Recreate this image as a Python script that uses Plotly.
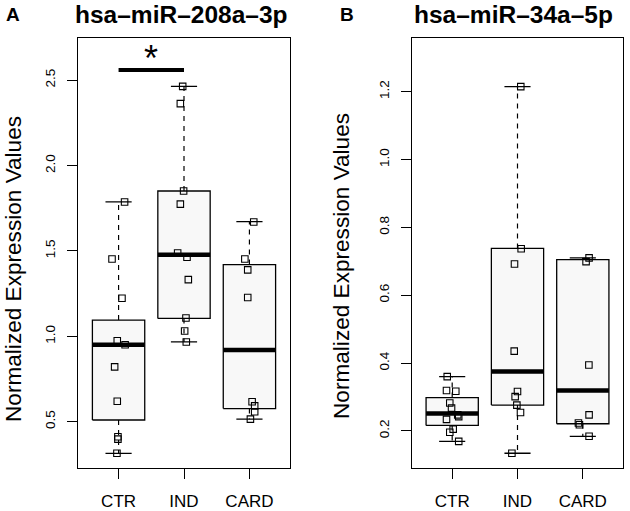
import plotly.graph_objects as go

W, H = 630, 511
FONT = "Liberation Sans, Arial, Helvetica, sans-serif"

# ---------------- data ----------------
groups = ["CTR", "IND", "CARD"]
a_title = "hsa\u2013miR\u2013208a\u20133p"
b_title = "hsa\u2013miR\u201334a\u20135p"
y_label = "Normalized Expression Values"
panel_letters = ["A", "B"]

# Panel A: hsa-miR-208a-3p  (individual samples and horizontal jitter)
a_ctr_vals = [1.787, 1.453, 1.223, 0.974, 0.951, 0.821, 0.620, 0.412, 0.398, 0.315]
a_ctr_jit = [0.092, -0.10, 0.052, -0.02, 0.10, -0.06, -0.02, -0.01, -0.01, -0.025]
a_ind_vals = [2.464, 2.363, 1.851, 1.774, 1.488, 1.463, 1.332, 1.107, 1.031, 0.967]
a_ind_jit = [-0.02, -0.056, -0.006, -0.056, -0.097, 0.046, 0.066, 0.03, 0.01, 0.035]
a_card_vals = [1.670, 1.453, 1.389, 1.227, 0.617, 0.593, 0.558, 0.515]
a_card_jit = [0.066, -0.07, -0.026, -0.026, 0.041, 0.08, 0.08, 0.015]
# box statistics per group (CTR, IND, CARD)
a_lo = [0.315, 0.967, 0.515]
a_q1 = [0.510, 1.105, 0.577]
a_med = [0.950, 1.478, 0.920]
a_q3 = [1.095, 1.851, 1.420]
a_hi = [1.787, 2.464, 1.672]
a_sig_pair = ["CTR", "IND"]
a_sig_y = 2.56
a_sig_label = "*"

# Panel B: hsa-miR-34a-5p
b_ctr_vals = [0.360, 0.319, 0.317, 0.282, 0.267, 0.247, 0.242, 0.234, 0.205, 0.196, 0.169]
b_ctr_jit = [-0.076, -0.087, 0.055, -0.037, -0.01, 0.085, 0.10, -0.087, 0.015, -0.037, 0.10]
b_ind_vals = [1.215, 0.737, 0.692, 0.435, 0.316, 0.301, 0.276, 0.254, 0.134]
b_ind_jit = [0.05, 0.056, -0.046, -0.05, 0.0, -0.036, -0.01, 0.046, -0.086]
b_card_vals = [0.710, 0.699, 0.394, 0.247, 0.223, 0.218, 0.184]
b_card_jit = [0.096, 0.05, 0.093, 0.096, -0.067, -0.052, 0.096]
b_lo = [0.169, 0.134, 0.184]
b_q1 = [0.216, 0.276, 0.221]
b_med = [0.251, 0.375, 0.319]
b_q3 = [0.298, 0.738, 0.705]
b_hi = [0.360, 1.215, 0.710]

a_ticks = [0.5, 1.0, 1.5, 2.0, 2.5]
b_ticks = [0.2, 0.4, 0.6, 0.8, 1.0, 1.2]
a_range = [0.228, 2.748]
b_range = [0.090, 1.358]

# ---------------- style ----------------
BOX_HALF = 0.4
CAP_HALF = 0.2
BOX_FILL = "#f8f8f8"
BLACK = "#000000"

fig = go.Figure()


def add_panel(xa, ya, lo, q1, med, q3, hi, pts):
    for i in range(len(groups)):
        c = i + 1
        # box
        fig.add_trace(go.Scatter(
            x=[c - BOX_HALF, c + BOX_HALF, c + BOX_HALF, c - BOX_HALF, c - BOX_HALF],
            y=[q1[i], q1[i], q3[i], q3[i], q1[i]],
            mode="lines", fill="toself", fillcolor=BOX_FILL,
            line=dict(color=BLACK, width=1.3), xaxis=xa, yaxis=ya,
            hoverinfo="skip", showlegend=False))
        # whiskers (dashed)
        for a, b in ((q3[i], hi[i]), (q1[i], lo[i])):
            fig.add_trace(go.Scatter(
                x=[c, c], y=[a, b], mode="lines",
                line=dict(color=BLACK, width=1.2, dash="5px,5px"),
                xaxis=xa, yaxis=ya, hoverinfo="skip", showlegend=False))
        # caps
        for v in (hi[i], lo[i]):
            fig.add_trace(go.Scatter(
                x=[c - CAP_HALF, c + CAP_HALF], y=[v, v], mode="lines",
                line=dict(color=BLACK, width=1.3),
                xaxis=xa, yaxis=ya, hoverinfo="skip", showlegend=False))
        # median
        fig.add_trace(go.Scatter(
            x=[c - BOX_HALF, c + BOX_HALF], y=[med[i], med[i]], mode="lines",
            line=dict(color=BLACK, width=4.5),
            xaxis=xa, yaxis=ya, hoverinfo="skip", showlegend=False))
    for i, (vals, jit) in enumerate(pts):
        c = i + 1
        fig.add_trace(go.Scatter(
            x=[c + j for j in jit], y=vals, mode="markers",
            marker=dict(symbol="square-open", size=6.5, color=BLACK,
                        line=dict(width=1.1, color=BLACK)),
            xaxis=xa, yaxis=ya, showlegend=False,
            name=groups[i]))


add_panel("x", "y", a_lo, a_q1, a_med, a_q3, a_hi,
          [(a_ctr_vals, a_ctr_jit), (a_ind_vals, a_ind_jit), (a_card_vals, a_card_jit)])
add_panel("x2", "y2", b_lo, b_q1, b_med, b_q3, b_hi,
          [(b_ctr_vals, b_ctr_jit), (b_ind_vals, b_ind_jit), (b_card_vals, b_card_jit)])

# significance bar
s0 = groups.index(a_sig_pair[0]) + 1
s1 = groups.index(a_sig_pair[1]) + 1
fig.add_trace(go.Scatter(x=[s0, s1], y=[a_sig_y, a_sig_y], mode="lines",
                         line=dict(color=BLACK, width=4), xaxis="x", yaxis="y",
                         hoverinfo="skip", showlegend=False))


def px(x):
    return x / W


def py(y):
    return 1 - y / H


axis_common = dict(showgrid=False, zeroline=False, showline=True, mirror=True,
                   linecolor=BLACK, linewidth=1.4, ticks="outside", ticklen=10,
                   tickwidth=1.1, tickcolor=BLACK)

xa_common = dict(axis_common, tickvals=[1, 2, 3], ticktext=groups, range=[0.38, 3.62],
                 tickfont=dict(family=FONT, size=17, color=BLACK), ticklabelstandoff=7)
ya_common = dict(axis_common, tickangle=-90, tickformat=".1f",
                 tickfont=dict(family=FONT, size=13.5, color=BLACK), ticklabelstandoff=6)

fig.update_layout(
    width=W, height=H, margin=dict(l=0, r=0, t=0, b=0),
    paper_bgcolor="white", plot_bgcolor="white", showlegend=False,
    xaxis=dict(xa_common, domain=[px(78), px(290)], anchor="y"),
    yaxis=dict(ya_common, domain=[py(470), py(38)], range=a_range, tickvals=a_ticks, anchor="x"),
    xaxis2=dict(xa_common, domain=[px(411.7), px(623.3)], anchor="y2"),
    yaxis2=dict(ya_common, domain=[py(470), py(38.3)], range=b_range, tickvals=b_ticks, anchor="x2"),
)

ann = []
# panel titles
ann.append(dict(x=px(180.5), y=py(15), xref="paper", yref="paper", text="<b>%s</b>" % a_title,
                showarrow=False, font=dict(family=FONT, size=24.5, color=BLACK),
                xanchor="center", yanchor="middle"))
ann.append(dict(x=px(513.5), y=py(15), xref="paper", yref="paper", text="<b>%s</b>" % b_title,
                showarrow=False, font=dict(family=FONT, size=24.5, color=BLACK),
                xanchor="center", yanchor="middle"))
# panel letters
ann.append(dict(x=px(12.5), y=py(15), xref="paper", yref="paper", text="<b>%s</b>" % panel_letters[0],
                showarrow=False, font=dict(family=FONT, size=19, color=BLACK),
                xanchor="center", yanchor="middle"))
ann.append(dict(x=px(347), y=py(15), xref="paper", yref="paper", text="<b>%s</b>" % panel_letters[1],
                showarrow=False, font=dict(family=FONT, size=19, color=BLACK),
                xanchor="center", yanchor="middle"))
# y titles
ann.append(dict(x=px(14), y=py(270), xref="paper", yref="paper", text=y_label, textangle=-90,
                showarrow=False, font=dict(family=FONT, size=22.6, color=BLACK),
                xanchor="center", yanchor="middle"))
ann.append(dict(x=px(342), y=py(267), xref="paper", yref="paper", text=y_label, textangle=-90,
                showarrow=False, font=dict(family=FONT, size=22.6, color=BLACK),
                xanchor="center", yanchor="middle"))
# significance star
ann.append(dict(x=(s0 + s1) / 2, y=a_sig_y, xref="x", yref="y", text=a_sig_label,
                showarrow=False, font=dict(family=FONT, size=36, color=BLACK),
                xanchor="center", yanchor="bottom", yshift=-11))
fig.update_layout(annotations=ann)

fig.write_html("out.html", config={"displayModeBar": False},
               post_script="document.body.style.margin='0';document.body.style.overflow='hidden';")
